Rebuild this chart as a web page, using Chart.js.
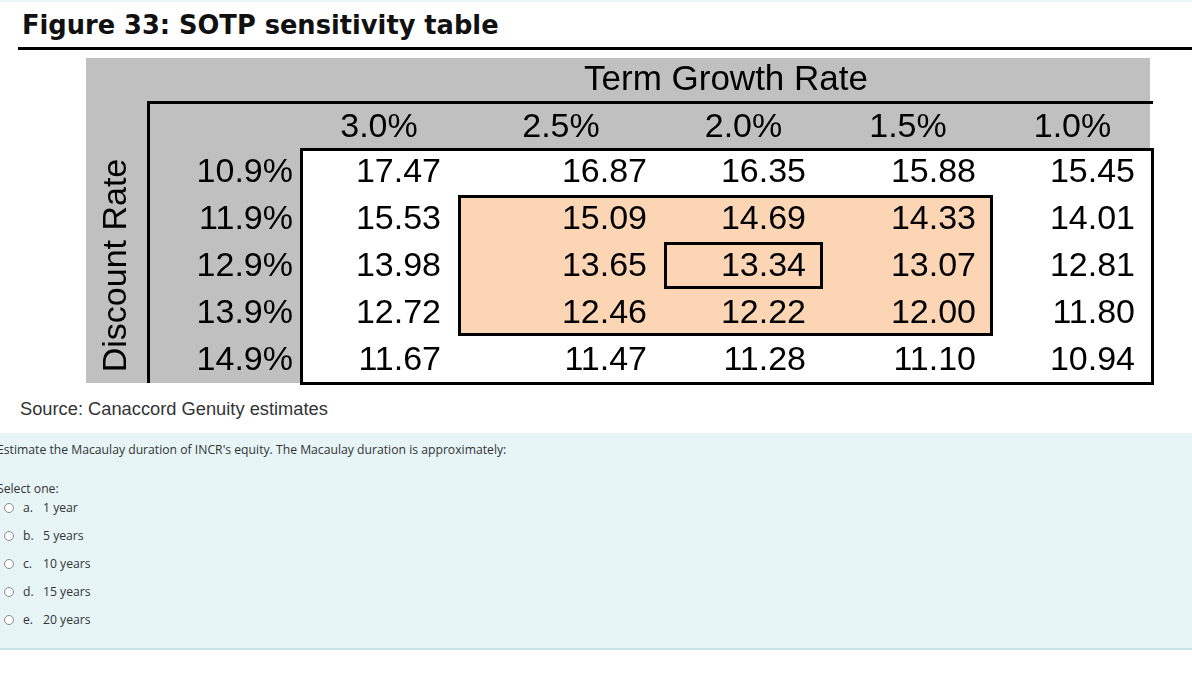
<!DOCTYPE html>
<html><head><meta charset="utf-8">
<script src="https://cdn.jsdelivr.net/npm/chart.js@4.4.1/dist/chart.umd.min.js"></script>
<style>
html,body{margin:0;padding:0;background:#fff;}
body{width:1192px;height:692px;position:relative;overflow:hidden;font-family:"Liberation Sans",Arial,sans-serif;}
#topline{position:absolute;left:0;top:0;width:1192px;height:2px;background:#eaf5f8;}
#title{position:absolute;left:22px;top:10px;font:bold 25.7px "DejaVu Sans",Verdana,sans-serif;color:#111;white-space:nowrap;}
#rule{position:absolute;left:18px;top:47px;width:1174px;height:3px;background:#000;}
#wrap{position:absolute;left:86px;top:58px;width:1070px;height:328px;}
#source{position:absolute;left:20px;top:398px;font:18.3px "Liberation Sans",Arial,sans-serif;color:#333;white-space:nowrap;}
#quiz{position:absolute;left:0;top:433px;width:1192px;height:215px;background:#e7f5f7;border-bottom:2px solid #c8e2ea;font-family:"Open Sans",sans-serif;font-size:12.2px;color:#333;}
#quiz .q{position:absolute;left:-3px;top:8px;white-space:nowrap;}
#quiz .s{position:absolute;left:-3px;top:47px;white-space:nowrap;}
.opt{position:absolute;left:0;height:18px;white-space:nowrap;}
.opt .rb{position:absolute;left:4px;top:4px;width:8px;height:8px;border:1px solid #8a8a8a;border-radius:50%;background:#fff;}
.opt .l{position:absolute;left:23px;top:0;}
.opt .t{position:absolute;left:43px;top:0;}
</style>
</head><body>
<div id="topline"></div>
<div id="title">Figure 33: SOTP sensitivity table</div>
<div id="rule"></div>
<div id="wrap"><canvas id="c" width="1070" height="328"></canvas></div>
<div id="source">Source: Canaccord Genuity estimates</div>
<div id="quiz">
  <div class="q">Estimate the Macaulay duration of INCR's equity. The Macaulay duration is approximately:</div>
  <div class="s">Select one:</div>
  <div id="opts"></div>
</div>
<script>
// ---- data ----
const columnTitle = "Term Growth Rate";
const rowTitle = "Discount Rate";
const termGrowth = ["3.0%", "2.5%", "2.0%", "1.5%", "1.0%"];
const discountRates = ["10.9%", "11.9%", "12.9%", "13.9%", "14.9%"];
const row109 = [17.47, 16.87, 16.35, 15.88, 15.45];
const row119 = [15.53, 15.09, 14.69, 14.33, 14.01];
const row129 = [13.98, 13.65, 13.34, 13.07, 12.81];
const row139 = [12.72, 12.46, 12.22, 12.00, 11.80];
const row149 = [11.67, 11.47, 11.28, 11.10, 10.94];
const optionLetters = ["a.", "b.", "c.", "d.", "e."];
const optionTexts = ["1 year", "5 years", "10 years", "15 years", "20 years"];

// ---- layout (not data) ----
const colWeights = [158, 206, 159, 170, 159];
const edges = [0];
colWeights.forEach(w => edges.push(edges[edges.length - 1] + w));
const values = [row109, row119, row129, row139, row149];

const points = [];
values.forEach((row, r) => row.forEach((v, c) => {
  points.push({x: (edges[c] + edges[c + 1]) / 2, y: r, v: v, r: r, c: c});
}));

// quiz options
const opts = document.getElementById('opts');
optionLetters.forEach((l, i) => {
  const d = document.createElement('div');
  d.className = 'opt';
  d.style.top = (66 + i * 28) + 'px';
  d.innerHTML = '<span class="rb"></span><span class="l">' + l + '</span><span class="t">' + optionTexts[i] + '</span>';
  opts.appendChild(d);
});

const FONT = '"Liberation Sans", Arial, sans-serif';
const tablePlugin = {
  id: 'tablePlugin',
  beforeDatasetsDraw(chart) {
    const {ctx, chartArea: a, scales: {x, y}} = chart;
    ctx.save();
    ctx.fillStyle = '#c0c0c0';
    ctx.fillRect(0, 0, a.right - 2, a.bottom);
    ctx.fillStyle = '#ffffff';
    ctx.fillRect(a.left, a.top, a.right - a.left, a.bottom - a.top);
    const px1 = x.getPixelForValue(edges[1]), px2 = x.getPixelForValue(edges[4]);
    const py1 = y.getPixelForValue(0.5), py2 = y.getPixelForValue(3.5);
    ctx.fillStyle = '#fcd5b4';
    ctx.fillRect(px1, py1, px2 - px1, py2 - py1);
    ctx.restore();
  },
  afterDatasetsDraw(chart) {
    const {ctx, chartArea: a, scales: {x, y}} = chart;
    const meta = chart.getDatasetMeta(0);
    ctx.save();
    ctx.fillStyle = '#000';
    ctx.textBaseline = 'middle';
    ctx.font = '34px ' + FONT;
    ctx.textAlign = 'right';
    meta.data.forEach((el, i) => {
      const p = points[i];
      const right = x.getPixelForValue(edges[p.c + 1]) - 17;
      ctx.fillText(p.v.toFixed(2), right, el.y + 1.5);
    });
    ctx.textAlign = 'center';
    termGrowth.forEach((t, c) => {
      ctx.fillText(t, x.getPixelForValue((edges[c] + edges[c + 1]) / 2), y.getPixelForValue(-1) + 3);
    });
    ctx.textAlign = 'right';
    discountRates.forEach((t, r) => ctx.fillText(t, a.left - 7, y.getPixelForValue(r) + 1.5));
    ctx.textAlign = 'center';
    ctx.font = '35px ' + FONT;
    ctx.fillText(columnTitle, (a.left + a.right) / 2, y.getPixelForValue(-2) + 3);
    ctx.save();
    ctx.translate(31, (a.top + a.bottom) / 2);
    ctx.rotate(-Math.PI / 2);
    ctx.font = '34px ' + FONT;
    ctx.fillText(rowTitle, 0, 0);
    ctx.restore();
    ctx.strokeStyle = '#000';
    ctx.lineWidth = 3;
    const hy = y.getPixelForValue(-1.5) + 1.5;
    ctx.beginPath();
    ctx.moveTo(61, hy); ctx.lineTo(a.right + 1, hy);
    ctx.moveTo(62.5, hy); ctx.lineTo(62.5, a.bottom);
    ctx.stroke();
    ctx.strokeRect(a.left + 1.5, a.top + 1.5, a.right - a.left - 1, a.bottom - a.top - 1);
    const px1 = x.getPixelForValue(edges[1]), px2 = x.getPixelForValue(edges[4]);
    const py1 = y.getPixelForValue(0.5), py2 = y.getPixelForValue(3.5);
    ctx.strokeRect(px1 + 1.5, py1 + 1.5, px2 - px1 - 3, py2 - py1 - 3);
    const cx1 = x.getPixelForValue(edges[2]), cx2 = x.getPixelForValue(edges[3]);
    const cy1 = y.getPixelForValue(1.5), cy2 = y.getPixelForValue(2.5);
    ctx.strokeRect(cx1 + 1.5, cy1 + 1.5, cx2 - cx1 - 3, cy2 - cy1 - 3);
    ctx.restore();
  }
};

new Chart(document.getElementById('c'), {
  type: 'scatter',
  data: {datasets: [{data: points, pointRadius: 0, pointHoverRadius: 0}]},
  options: {
    responsive: false,
    animation: false,
    devicePixelRatio: 1,
    layout: {padding: {left: 214, top: 90, right: 4, bottom: 3}},
    plugins: {legend: {display: false}, tooltip: {enabled: false}},
    events: [],
    scales: {
      x: {type: 'linear', display: false, min: 0, max: edges[edges.length - 1]},
      y: {type: 'linear', display: false, min: -0.5, max: 4.5, reverse: true}
    }
  },
  plugins: [tablePlugin]
});
</script>
</body></html>
